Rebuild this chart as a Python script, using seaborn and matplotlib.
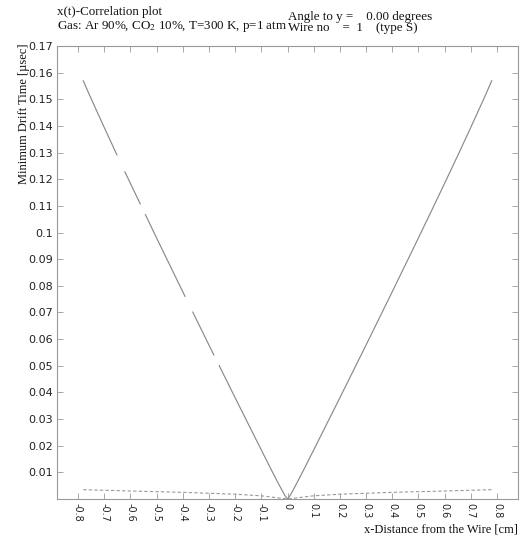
import numpy as np
import pandas as pd
import matplotlib
matplotlib.use("Agg")
import matplotlib.pyplot as plt
import seaborn as sns

# ---- data ----
right_x = [0.0, 0.01, 0.02, 0.04, 0.06, 0.10, 0.15, 0.20, 0.25, 0.30, 0.35, 0.40,
           0.45, 0.50, 0.55, 0.60, 0.65, 0.70, 0.75, 0.78]
right_t = [0.0, 0.0013, 0.0031, 0.0068, 0.0106, 0.0184, 0.0282, 0.0380, 0.0479, 0.0578,
           0.0678, 0.0778, 0.0879, 0.0980, 0.1082, 0.1185, 0.1289, 0.1395, 0.1503, 0.1570]

# left branch, NaN marks missing pieces of the curve
left_x = [-0.78, -0.75, -0.70, -0.651, -0.636, -0.621, -0.60, -0.562, -0.552, -0.543,
          -0.50, -0.45, -0.40, -0.391, -0.376, -0.362, -0.30, -0.281, -0.271, -0.261,
          -0.20, -0.15, -0.10, -0.06, -0.04, -0.02, -0.01, 0.0]
left_t = [0.1570, 0.1503, 0.1395, 0.1291, np.nan, 0.1228, 0.1185, 0.1107, np.nan, 0.1068,
          0.0980, 0.0879, 0.0778, 0.0760, np.nan, 0.0702, 0.0578, 0.0540, np.nan, 0.0501,
          0.0380, 0.0282, 0.0184, 0.0106, 0.0068, 0.0031, 0.0013, 0.0]

diff_x = [-0.78, -0.60, -0.40, -0.20, -0.10, -0.05, 0.0, 0.05, 0.10, 0.20, 0.40, 0.60, 0.78]
diff_t = [0.0035, 0.0030, 0.0025, 0.0018, 0.0012, 0.0006, 0.0, 0.0006, 0.0012, 0.0018,
          0.0025, 0.0030, 0.0035]

x_ticks = [-0.8, -0.7, -0.6, -0.5, -0.4, -0.3, -0.2, -0.1, 0.0, 0.1, 0.2, 0.3, 0.4,
           0.5, 0.6, 0.7, 0.8]
x_ticklabels = ["-0.8", "-0.7", "-0.6", "-0.5", "-0.4", "-0.3", "-0.2", "-0.1", "0",
                "0.1", "0.2", "0.3", "0.4", "0.5", "0.6", "0.7", "0.8"]
y_ticks = [0.01, 0.02, 0.03, 0.04, 0.05, 0.06, 0.07, 0.08, 0.09, 0.10, 0.11, 0.12,
           0.13, 0.14, 0.15, 0.16, 0.17]
y_ticklabels = ["0.01", "0.02", "0.03", "0.04", "0.05", "0.06", "0.07", "0.08", "0.09",
                "0.1", "0.11", "0.12", "0.13", "0.14", "0.15", "0.16", "0.17"]

# ---- style ----
sns.set_theme(style="white")
plt.rcParams["font.family"] = ["DejaVu Sans"]
plt.rcParams["axes.unicode_minus"] = False
plt.rcParams["mathtext.fontset"] = "stix"

W, H = 521, 540
fig = plt.figure(figsize=(W / 100, H / 100), dpi=100)
ax = fig.add_axes([57 / W, 1 - 499 / H, (518 - 57) / W, (499 - 46) / H])

line_col = "#8a8a8a"
dash_col = "#999999"

# solid curve: right branch
sns.lineplot(x=right_x, y=right_t, ax=ax, color=line_col, lw=0.85,
             sort=False, estimator=None)

# solid curve: left branch, split at missing values
lx = np.array(left_x)
lt = np.array(left_t)
seg = np.cumsum(np.isnan(lt))
for s in np.unique(seg):
    m = (seg == s) & ~np.isnan(lt)
    if m.sum() >= 2:
        sns.lineplot(x=lx[m], y=lt[m], ax=ax, color=line_col, lw=0.85,
                     sort=False, estimator=None)

# dashed curve
sns.lineplot(x=diff_x, y=diff_t, ax=ax, color=dash_col, lw=0.8,
             sort=False, estimator=None, linestyle=(0, (3, 2)))

ax.set_xlim(-0.88, 0.88)
ax.set_ylim(0, 0.17)
ax.set_xticks(x_ticks)
ax.set_xticklabels(x_ticklabels, rotation=270, fontsize=7, color="#222222")
ax.set_yticks(y_ticks)
ax.set_yticklabels(y_ticklabels, fontsize=8, color="#222222")
ax.tick_params(direction="in", length=4, width=0.6, color="#999999",
               top=True, right=True, bottom=True, left=True, pad=3)
for sp in ax.spines.values():
    sp.set_color("#999999")
    sp.set_linewidth(0.8)
ax.set_xlabel("")
ax.set_ylabel("")

serif = ["Liberation Serif", "DejaVu Serif"]
fig.text(518 / W, 1 - 529 / H, "x-Distance from the Wire [cm]", ha="right", va="center",
         fontsize=9, family=serif, color="#111111")
fig.text(24 / W, 1 - 43 / H, "Minimum Drift Time [\u00b5sec]", ha="center", va="top",
         rotation=90, fontsize=9, family=serif, color="#111111")
fig.text(57 / W, 1 - 12 / H, "x(t)-Correlation plot", ha="left", va="center",
         fontsize=9.4, family=serif, color="#111111")
fig.text(57 / W, 1 - 27 / H, "Gas: Ar 90%, CO$_2$ 10%, T=300 K, p=1 atm", ha="left",
         va="center", fontsize=9.4, family=serif, color="#111111")
fig.text(288 / W, 1 - 17 / H, "Angle to y =    0.00 degrees", ha="left", va="center",
         fontsize=9.4, family=serif, color="#111111")
fig.text(288 / W, 1 - 28 / H, "Wire no    =  1    (type S)", ha="left", va="center",
         fontsize=9.4, family=serif, color="#111111")

fig.savefig("out.png", dpi=100, facecolor="white")
